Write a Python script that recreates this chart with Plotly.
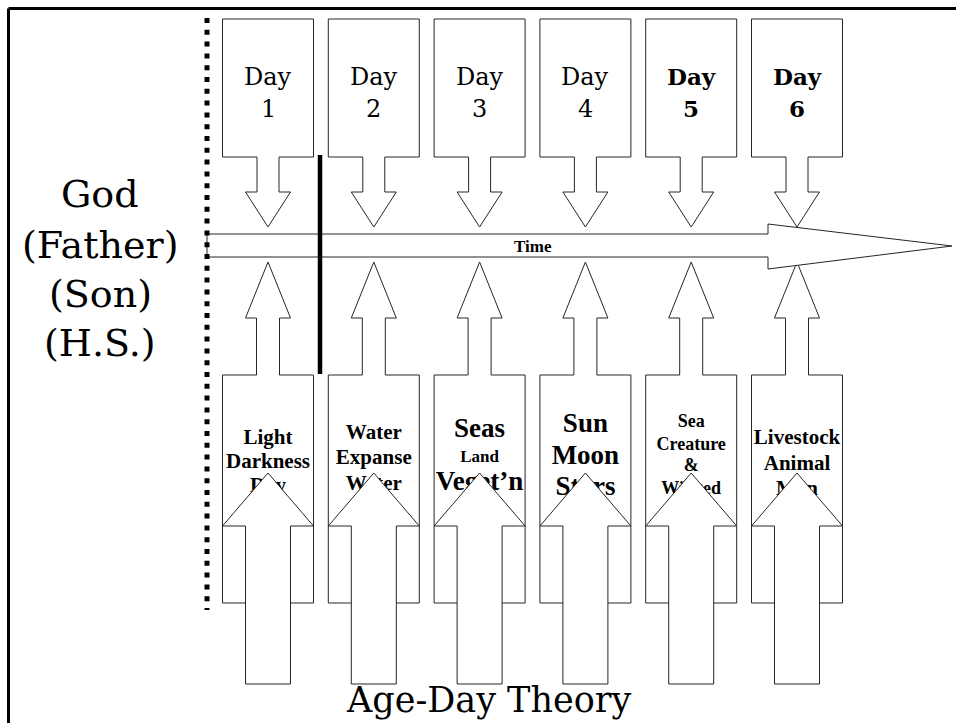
import plotly.graph_objects as go

# ---------------- data ----------------
day_word = "Day"
day_numbers = ["1", "2", "3", "4", "5", "6"]
day_bold = [False, False, False, False, True, True]
creation_lines = [
    ["Light", "Darkness", "Day"],
    ["Water", "Expanse", "Water"],
    ["Seas", "Land", "Veget\u2019n"],
    ["Sun", "Moon", "Stars"],
    ["Sea", "Creature", "&", "Winged"],
    ["Livestock", "Animal", "Man"],
]
godhead_lines = ["God", "(Father)", "(Son)", "(H.S.)"]
time_label = "Time"
title_text = "Age-Day Theory"

# ---------------- layout constants (pixels) ----------------
W, H = 956, 723
X0, DX = 268.0, 105.8
centers = [X0 + DX * i for i in range(len(day_numbers))]
line_sizes = [[21, 21, 21], [21, 21, 21], [27, 17, 27], [27, 27, 27],
              [18, 18, 18, 18], [21, 21, 21]]
line_baselines = [[446, 470.5, 494], [440.7, 466.5, 491.7], [440, 464, 493],
                  [435, 466.7, 498], [429, 451.7, 473, 495.7], [446, 471.7, 496.7]]
LINE = "#262626"

shapes = []

def path(pts):
    return "M " + " L ".join(f"{x:.1f},{y:.1f}" for x, y in pts) + " Z"

# top "Day" callouts (box with down arrow)
for c in centers:
    pts = [(c - 45.5, 19), (c + 45.5, 19), (c + 45.5, 157), (c + 11, 157), (c + 11, 192),
           (c + 22.5, 192), (c, 227), (c - 22.5, 192), (c - 11, 192), (c - 11, 157),
           (c - 45.5, 157)]
    shapes.append(dict(type="path", path=path(pts), fillcolor="white",
                       line=dict(color=LINE, width=1), layer="below"))

# bottom callouts (box with up arrow)
for c in centers:
    pts = [(c - 45.5, 603), (c - 45.5, 375), (c - 11.5, 375), (c - 11.5, 318), (c - 22.5, 318),
           (c, 262), (c + 22.5, 318), (c + 11.5, 318), (c + 11.5, 375), (c + 45.5, 375),
           (c + 45.5, 603)]
    shapes.append(dict(type="path", path=path(pts), fillcolor="white",
                       line=dict(color=LINE, width=1), layer="below"))

# big up arrows over the bottom callouts
for c in centers:
    pts = [(c - 22.5, 684), (c - 22.5, 526), (c - 45.5, 526), (c, 473), (c + 45.5, 526),
           (c + 22.5, 526), (c + 22.5, 684)]
    shapes.append(dict(type="path", path=path(pts), fillcolor="white",
                       line=dict(color=LINE, width=1), layer="above"))

# time arrow
time_pts = [(207, 234), (768, 234), (768, 224), (952, 246), (768, 269), (768, 257), (207, 257)]
shapes.append(dict(type="path", path=path(time_pts), fillcolor="white",
                   line=dict(color=LINE, width=1), layer="above"))

# thick solid vertical line
shapes.append(dict(type="line", x0=320, x1=320, y0=155, y1=374,
                   line=dict(color="black", width=4.5), layer="above"))
# dotted vertical line
shapes.append(dict(type="line", x0=207, x1=207, y0=18, y1=610,
                   line=dict(color="black", width=5, dash="5px,6.8px"), layer="above"))
# frame (top and left edges)
shapes.append(dict(type="line", x0=8.5, x1=W + 5, y0=8.5, y1=8.5,
                   line=dict(color="black", width=3), layer="above"))
shapes.append(dict(type="line", x0=8.5, x1=8.5, y0=8.5, y1=H + 5,
                   line=dict(color="black", width=3), layer="above"))

# ---------------- text ----------------
tx, ty, tt, ts = [], [], [], []
for c, lines, sizes, bases in zip(centers, creation_lines, line_sizes, line_baselines):
    for t, s, b in zip(lines, sizes, bases):
        tx.append(c)
        ty.append(b - 0.35 * s)
        tt.append(t)
        ts.append(s)

fig = go.Figure()
fig.add_trace(go.Scatter(
    x=tx, y=ty, text=tt, mode="text", textposition="middle center",
    textfont=dict(family="Liberation Serif", size=ts, color="black", weight="bold"),
    hoverinfo="skip", showlegend=False, cliponaxis=False))

annotations = []
for c, n, b in zip(centers, day_numbers, day_bold):
    sz = 23 if b else 24
    wt = "bold" if b else "normal"
    annotations.append(dict(x=c, y=85 - 0.35 * sz, text=day_word, showarrow=False,
                            xanchor="center", yanchor="middle",
                            font=dict(family="DejaVu Serif", size=sz, color="black", weight=wt)))
    annotations.append(dict(x=c, y=117 - 0.35 * sz, text=n, showarrow=False,
                            xanchor="center", yanchor="middle",
                            font=dict(family="DejaVu Serif", size=sz, color="black", weight=wt)))

for t, b in zip(godhead_lines, [207, 258, 307, 356]):
    annotations.append(dict(x=100, y=b - 0.35 * 38, text=t, showarrow=False,
                            xanchor="center", yanchor="middle",
                            font=dict(family="DejaVu Serif", size=38, color="black")))

annotations.append(dict(x=533, y=246, text=time_label, showarrow=False,
                        xanchor="center", yanchor="middle",
                        font=dict(family="Liberation Serif", size=17, color="black", weight="bold")))
annotations.append(dict(x=488, y=712 - 0.35 * 35, text=title_text, showarrow=False,
                        xanchor="center", yanchor="middle",
                        font=dict(family="DejaVu Serif", size=35, color="black")))

fig.update_layout(
    width=W, height=H, autosize=False,
    margin=dict(l=0, r=0, t=0, b=0, pad=0),
    paper_bgcolor="white", plot_bgcolor="white",
    xaxis=dict(range=[0, W], visible=False, fixedrange=True),
    yaxis=dict(range=[H, 0], visible=False, fixedrange=True),
    shapes=shapes, annotations=annotations, showlegend=False,
)

fig.write_html("out.html", config={"displayModeBar": False},
               post_script="document.body.style.margin='0';document.body.style.overflow='hidden';")
